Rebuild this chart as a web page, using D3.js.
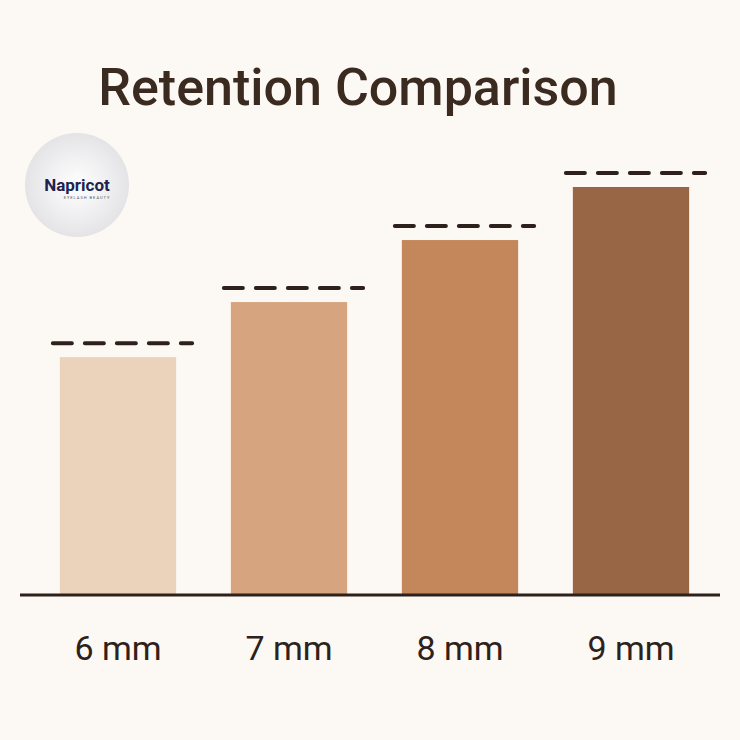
<!DOCTYPE html>
<meta charset="utf-8">
<style>
html, body { margin: 0; background: #fcf8f4; }
text { font-family: "Roboto", "Liberation Sans", sans-serif; }
</style>
<svg></svg>
<script src="https://d3js.org/d3.v7.min.js"></script>
<script>
var categories = ['6 mm', '7 mm', '8 mm', '9 mm'];
var values = [58.3, 71.8, 87, 100];
var colors = ['#ebd3bb', '#d6a47f', '#c4875b', '#986545'];

var width = 740, height = 740;
var svg = d3.select('svg').attr('width', width).attr('height', height);
svg.append('rect').attr('width', width).attr('height', height).attr('fill', '#fcf8f4');

var x = d3.scaleBand().domain(categories).range([32.5, 716.5]).paddingInner(0.32).paddingOuter(0.16);
var y = d3.scaleLinear().domain([0, 100]).range([595, 187]);

svg.append('text')
  .attr('x', 358).attr('y', 105)
  .attr('text-anchor', 'middle')
  .attr('font-size', 52).attr('font-weight', 500)
  .attr('fill', '#3a2a20')
  .text('Retention Comparison');

// logo
var logo = svg.append('g').attr('transform', 'translate(77,185)');
var grad = svg.append('defs').append('radialGradient').attr('id', 'lg');
grad.append('stop').attr('offset', '0%').attr('stop-color', '#ffffff');
grad.append('stop').attr('offset', '100%').attr('stop-color', '#e4e3e6');
logo.append('circle').attr('r', 52).attr('fill', 'url(#lg)');
logo.append('text').attr('x', 0).attr('y', 6).attr('text-anchor', 'middle')
  .attr('font-size', 17).attr('font-weight', 'bold').attr('fill', '#1c2350').text('Napricot');
logo.append('text').attr('x', 10).attr('y', 14).attr('text-anchor', 'middle')
  .attr('font-size', 4).attr('fill', '#555').attr('letter-spacing', 1).text('EYELASH BEAUTY');

svg.selectAll('.bar').data(values).enter().append('rect')
  .attr('x', function (d, i) { return x(categories[i]); })
  .attr('y', function (d) { return y(d); })
  .attr('width', x.bandwidth())
  .attr('height', function (d) { return y(0) - y(d); })
  .attr('fill', function (d, i) { return colors[i]; });

svg.selectAll('.dash').data(values).enter().append('line')
  .attr('x1', function (d, i) { return x(categories[i]) - 7; })
  .attr('x2', function (d, i) { return x(categories[i]) + x.bandwidth() + 16; })
  .attr('y1', function (d) { return y(d) - 14; })
  .attr('y2', function (d) { return y(d) - 14; })
  .attr('stroke', '#2e211b').attr('stroke-width', 4)
  .attr('stroke-linecap', 'round')
  .attr('stroke-dasharray', '19 13');

svg.append('line').attr('x1', 20).attr('x2', 720).attr('y1', 595).attr('y2', 595)
  .attr('stroke', '#2e211b').attr('stroke-width', 3);

svg.selectAll('.lbl').data(categories).enter().append('text')
  .attr('x', function (d) { return x(d) + x.bandwidth() / 2; })
  .attr('y', 660)
  .attr('text-anchor', 'middle')
  .attr('font-size', 34)
  .attr('fill', '#2e211b')
  .text(function (d) { return d; });
</script>
